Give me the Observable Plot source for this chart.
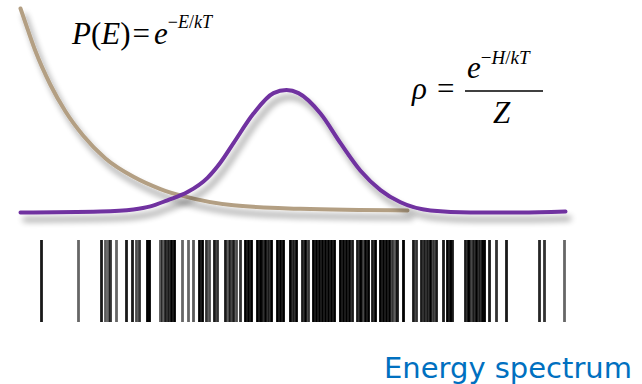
<!DOCTYPE html>
<html>
<head>
<meta charset="utf-8">
<script src="https://cdn.jsdelivr.net/npm/d3@7"></script>
<script src="https://cdn.jsdelivr.net/npm/@observablehq/plot@0.6"></script>
<style>
  html, body { margin: 0; padding: 0; background: #fff; }
  #chart { position: relative; width: 642px; height: 384px; overflow: hidden; }
  #chart svg { display: block; overflow: visible; }
  .caption {
    font-family: "DejaVu Sans", Verdana, sans-serif;
    font-size: 29px; line-height: 34px; color: #0070C0;
    text-align: right; padding-right: 10px; padding-top: 11px;
  }
</style>
</head>
<body>
<div id="chart"></div>
<script>
// Boltzmann factor curve P(E) (tan)
const boltzEnergy = [20, 27, 35, 50, 65, 83, 105, 133, 160, 183, 233, 300, 407];
const boltzP      = [1.00, 0.90, 0.79, 0.625, 0.495, 0.375, 0.265, 0.175, 0.115, 0.08, 0.035, 0.018, 0.01];

// Density of states curve rho (purple)
const rhoEnergy = [20, 100, 133, 150, 167, 187, 207, 220, 233, 253, 273, 286, 298, 320, 340, 360, 380, 400, 430, 470, 520, 565];
const rhoValue  = [0, 0.005, 0.015, 0.03, 0.06, 0.10, 0.17, 0.245, 0.34, 0.485, 0.585, 0.60, 0.585, 0.485, 0.34, 0.205, 0.11, 0.05, 0.01, 0, 0, 0.005];

// Energy spectrum lines (energy level, intensity)
const levelEnergy = [41, 78, 101, 105, 108, 110, 116, 126, 132, 136, 139, 147, 149,
  160, 162, 165, 168, 171, 174, 182, 188, 193, 199, 202, 206, 209, 214, 217,
  225, 228, 230, 233, 236, 240, 245, 248, 251, 257, 260, 262, 265, 268, 271,
  277, 280, 283, 290, 293, 296, 302, 305, 308, 313, 316, 319, 322, 325, 328, 331, 334,
  340, 343, 346, 349, 352, 357, 360, 362, 365, 368, 372, 375, 380, 383, 386, 389,
  392, 395, 397, 403, 413, 416, 421, 424, 427, 430, 433, 436, 443, 447, 450, 452,
  465, 468, 470, 473, 476, 479, 482, 484, 489, 496, 506, 539, 544, 564];
const levelIntensity = [0.9, 0.6, 0.9, 0.65, 0.65, 0.8, 0.6, 0.9, 0.9, 0.7, 0.8, 1, 1,
  0.65, 0.7, 0.9, 0.9, 1, 1, 0.6, 0.6, 0.65, 1, 1, 0.8, 0.7, 0.9, 0.8,
  0.9, 0.7, 0.8, 0.9, 0.7, 0.8, 1, 1, 1, 1, 1, 0.9, 1, 0.9, 1,
  1, 1, 1, 1, 0.9, 1, 0.9, 1, 0.8, 1, 1, 1, 1, 1, 1, 1, 1,
  1, 1, 1, 1, 0.9, 0.9, 1, 0.8, 1, 1, 0.9, 1, 1, 1, 1, 1,
  0.8, 0.7, 0.9, 1, 0.9, 0.8, 0.9, 0.9, 0.9, 1, 0.8, 0.9, 0.9, 1, 1, 0.9,
  0.9, 1, 0.8, 0.9, 1, 0.9, 1, 1, 0.9, 0.8, 0.9, 0.85, 0.8, 0.6];

const boltz = boltzEnergy.map((e, i) => ({energy: e, p: boltzP[i]}));
const rho = rhoEnergy.map((e, i) => ({energy: e, v: rhoValue[i]}));
const levels = levelEnergy.map((e, i) => ({energy: e, w: levelIntensity[i]}));

const W = 642;

const curves = Plot.plot({
  width: W, height: 222,
  marginLeft: 20, marginRight: 77, marginTop: 8, marginBottom: 10,
  x: {domain: [20, 565], axis: null},
  y: {domain: [0, 1], axis: null},
  marks: [
    Plot.line(boltz, {x: "energy", y: "p", stroke: "#b39f83", strokeWidth: 4, curve: "monotone-x"}),
    Plot.line(rho, {x: "energy", y: "v", stroke: "#7030a0", strokeWidth: 4, curve: "monotone-x"})
  ]
});

const spectrum = Plot.plot({
  width: W, height: 118,
  marginLeft: 20, marginRight: 77, marginTop: 18, marginBottom: 18,
  x: {domain: [20, 565], axis: null},
  marks: [
    Plot.ruleX(levels, {x: "energy", stroke: "#000", strokeOpacity: "w", strokeWidth: 2.8})
  ]
});

// soft drop shadow under the curves (SVG filter)
const svg = d3.select(curves);
const defs = svg.insert("defs", ":first-child");
const flt = defs.append("filter").attr("id", "curveShadow")
  .attr("filterUnits", "userSpaceOnUse")
  .attr("x", -20).attr("y", -20).attr("width", 700).attr("height", 270);
flt.append("feGaussianBlur").attr("in", "SourceAlpha").attr("stdDeviation", 3).attr("result", "b");
flt.append("feOffset").attr("in", "b").attr("dx", 4).attr("dy", 7).attr("result", "o");
flt.append("feComponentTransfer").attr("in", "o").attr("result", "s")
  .append("feFuncA").attr("type", "linear").attr("slope", 0.42);
const mrg = flt.append("feMerge");
mrg.append("feMergeNode").attr("in", "s");
mrg.append("feMergeNode").attr("in", "SourceGraphic");
svg.selectAll('g[aria-label="line"]').attr("filter", "url(#curveShadow)");

// formulas as real text
const serif = "'Liberation Serif', 'Times New Roman', serif";
function txt(x, y) {
  return svg.append("text").attr("x", x).attr("y", y).attr("text-anchor", "start")
    .attr("font-family", serif).attr("font-size", 31).attr("fill", "#000");
}
const f1 = txt(72, 44);
f1.append("tspan").attr("font-style", "italic").text("P");
f1.append("tspan").text("(");
f1.append("tspan").attr("font-style", "italic").text("E");
f1.append("tspan").text(")");
f1.append("tspan").attr("dx", 2).text("=");
f1.append("tspan").attr("dx", 4).attr("font-style", "italic").text("e");
f1.append("tspan").attr("dy", -16).attr("font-size", 18).text("\u2212");
f1.append("tspan").attr("font-size", 18).attr("font-style", "italic").text("E");
f1.append("tspan").attr("font-size", 18).text("/");
f1.append("tspan").attr("font-size", 18).attr("font-style", "italic").text("kT");

const f2 = txt(412, 99);
f2.append("tspan").attr("font-style", "italic").text("\u03C1");
f2.append("tspan").attr("dx", 10).text("=");
const num = txt(467, 78);
num.append("tspan").attr("font-style", "italic").text("e");
num.append("tspan").attr("dy", -14).attr("font-size", 19).text("\u2212");
num.append("tspan").attr("font-size", 19).attr("font-style", "italic").text("H");
num.append("tspan").attr("font-size", 19).text("/");
num.append("tspan").attr("font-size", 19).attr("font-style", "italic").text("kT");
svg.append("line").attr("x1", 465).attr("x2", 543).attr("y1", 91).attr("y2", 91)
  .attr("stroke", "#000").attr("stroke-width", 1.5);
txt(493, 123).attr("font-style", "italic").text("Z");

const chart = document.getElementById("chart");
chart.appendChild(curves);
chart.appendChild(spectrum);
const cap = document.createElement("div");
cap.className = "caption";
cap.textContent = "Energy spectrum";
chart.appendChild(cap);
</script>
</body>
</html>
